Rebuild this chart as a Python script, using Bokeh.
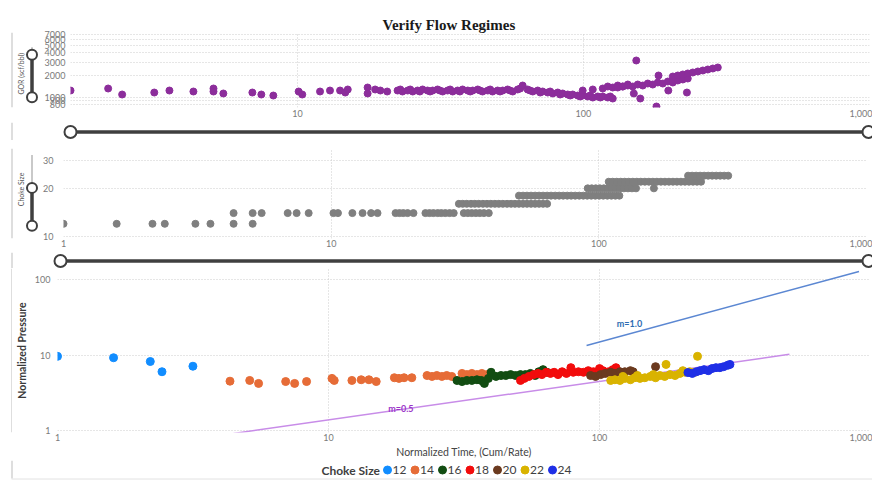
import math
from bokeh.plotting import figure
from bokeh.layouts import column, row
from bokeh.models import Range1d, FixedTicker, NumeralTickFormatter, Label
from bokeh.core.properties import value
from bokeh.embed import file_html
from bokeh.resources import INLINE

# ---------------- data ----------------
title_text = "Verify Flow Regimes"
gor_label = "GOR (scf/bbl)"
choke_label = "Choke Size"
x_label = "Normalized Time, (Cum/Rate)"
y_label = "Normalized Pressure"
legend_title = "Choke Size"

gor_ticks = [800, 900, 1000, 2000, 3000, 4000, 5000, 6000, 7000]
gor_time_ticks = [10, 100, 1000]
time_ticks = [1, 10, 100, 1000]
choke_ticks = [10, 20, 30]
pressure_ticks = [1, 10, 100]

gor_t = [1.61, 2.18, 2.44, 3.16, 3.57, 4.33, 5.09, 5.09, 5.51, 6.96, 7.48, 8.24,
         10.1, 10.4, 12.0, 13.0, 14.1, 14.7, 15.0, 17.6, 17.6, 18.7, 19.5, 20.6,
         22.4, 22.9, 23.3, 24.3, 24.8, 25.3, 26.3, 26.8, 27.4, 28.5, 29.1,
         29.7, 30.9, 31.5, 32.2, 33.5, 34.2, 34.9, 36.3, 37.0, 37.8, 39.4,
         40.2, 41.0, 42.7, 43.5, 44.4, 46.3, 47.2, 48.1, 50.1, 51.1, 52.2,
         54.3, 55.4, 56.6, 58.9, 60.1, 61.3, 63.8, 65.1, 66.5, 69.2, 70.6,
         72.0, 75.0, 76.5, 78.1, 81.3, 82.9, 84.6, 88.1, 89.9, 91.7, 95.5,
         97.4, 99.4, 103.5, 105.6, 107.8, 112.2, 114.5, 116.8, 121.6, 124.1, 126.6,
         99.4, 107.8, 116.8, 121.6, 126.6, 131.8, 137.2, 142.9,
         153, 150, 158, 180, 183, 198, 230,
         131.8, 137.2, 142.9, 148.7, 154.8, 161.2, 167.8, 174.7, 181.9, 189.4, 197.2, 205.3, 213.7, 222.5, 231.6,
         205.3, 213.7, 222.5, 231.6, 241.1, 251.1, 261.4, 272.1, 283.3, 294.9]
gor_v = [1243, 1323, 1098, 1168, 1243, 1205, 1323, 1205, 1133, 1168, 1098, 1064,
         1205, 1098, 1205, 1243, 1243, 1168, 1283, 1365, 1133, 1283, 1243, 1205,
         1243, 1283, 1205, 1243, 1283, 1205, 1243, 1205, 1283, 1243, 1205,
         1243, 1283, 1243, 1205, 1243, 1283, 1205, 1243, 1205, 1283, 1243,
         1205, 1243, 1283, 1243, 1205, 1243, 1283, 1205, 1243, 1205, 1243,
         1283, 1243, 1205, 1283, 1323, 1452, 1283, 1243, 1205, 1243, 1168,
         1205, 1168, 1205, 1133, 1168, 1098, 1133, 1098, 1064, 1098, 1064,
         1032, 1064, 1032, 1064, 1000, 1032, 1000, 1032, 1000, 1032, 969,
         1243, 1283, 1323, 1408, 1365, 1452, 1408, 1498,
         3162, 1133, 969, 756, 1982, 1243, 1168,
         1365, 1408, 1452, 1408, 1498, 1452, 1545, 1498, 1595, 1545, 1645, 1595, 1698, 1752, 1806,
         1922, 1982, 2046, 2112, 2177, 2247, 2317, 2390, 2466, 2545]

choke_sizes = [12, 14, 16, 18, 20, 22, 24]
choke_colors = ["#118DFF", "#E66C37", "#124D12", "#F20C0C", "#6B3A1F", "#D9B300", "#1F2FE6"]

# choke-size panel: normalized time of the records of each choke size
ch_t12 = [1.0, 1.58, 2.15, 2.39, 3.11, 3.54, 4.32, 5.09]
ch_t14 = [4.32, 5.09, 5.50, 6.88, 7.43, 8.24, 10.2, 10.6, 12.0, 13.1, 14.1, 14.9, 17.4, 18.0, 18.6, 19.3,
          20.3, 22.5, 23.3, 24.1, 25.0, 25.8, 26.7, 27.7, 28.7, 31.3, 32.4, 33.5, 34.7, 35.9, 37.2, 38.8]
ch_t16 = [30.0, 31.0, 32.1, 33.3, 34.4, 35.6, 36.9, 38.2, 39.5, 40.9, 42.3, 43.8, 45.4, 47.0, 48.6, 50.3,
          52.1, 53.9, 55.8, 57.8, 59.8, 61.9, 64.1]
ch_t18 = [50.3, 52.1, 53.9, 55.8, 57.8, 59.8, 61.9, 64.1, 66.3, 68.7, 71.1, 73.6, 76.2, 78.8, 81.6, 84.5,
          87.5, 90.5, 93.7, 97.0, 100.4, 103.9, 107.6, 111.4, 115.3, 119.3]
ch_t20 = [90.9, 94.1, 97.4, 100.9, 104.4, 108.1, 111.9, 115.8, 119.9, 124.1, 128.5, 133.0, 137.7, 160.6]
ch_t22 = [108.9, 112.7, 116.7, 120.8, 125.0, 129.4, 134.0, 138.7, 143.5, 148.6, 153.8, 159.2, 164.8, 170.6,
          176.6, 182.8, 189.2, 195.8, 202.7, 209.8, 217.2, 224.8, 232.7, 240.9]
ch_t24 = [215.5, 223.1, 230.9, 239.0, 247.4, 256.1, 265.1, 274.4, 284.0, 294.0, 304.3]

# normalized pressure panel, per choke size
pt12 = [1.0, 1.61, 2.2, 2.43, 3.16]
pp12 = [9.6, 9.2, 8.2, 6.0, 7.1]
pt14 = [4.33, 5.12, 5.52, 6.95, 7.5, 8.3, 10.3, 10.5, 12.2, 13.2, 14.1, 15.0, 17.5, 18.2, 19.0, 20.3,
        23.1, 24.1, 25.1, 26.2, 27.3, 28.5, 31.1, 32.4, 33.8, 35.3, 36.8, 38.4]
pp14 = [4.5, 4.6, 4.2, 4.45, 4.2, 4.45, 4.9, 4.6, 4.6, 4.7, 4.7, 4.45, 5.0, 4.9, 5.0, 5.0,
        5.35, 5.2, 5.35, 5.2, 5.35, 5.2, 5.7, 5.5, 5.7, 5.5, 5.7, 5.5]
pt16 = [29.8, 31.1, 32.4, 33.8, 35.3, 36.6, 37.6, 38.9, 39.8, 41.5, 43.3, 45.1, 47.0, 49.0, 51.1, 53.3,
        55.6, 57.9, 59.7, 61.9, 64.0]
pp16 = [4.6, 4.45, 4.6, 4.6, 4.7, 4.6, 4.2, 4.9, 5.9, 5.2, 5.35, 5.35, 5.5, 5.35, 5.5, 5.5,
        5.7, 5.35, 6.0, 6.4, 5.9]
pt18 = [51.1, 52.8, 54.9, 57.2, 59.3, 61.3, 63.6, 65.9, 68.0, 70.3, 72.8, 75.5, 78.4, 80.0, 83.6, 87.3,
        90.9, 95.0, 98.9, 100, 103, 108, 112, 115]
pp18 = [4.6, 4.9, 5.2, 5.5, 5.7, 5.5, 5.9, 5.7, 5.9, 5.5, 6.0, 5.7, 6.8, 5.9, 6.0, 5.9,
        6.2, 6.0, 5.9, 6.6, 6.2, 6.0, 6.4, 6.8]
pt20 = [92.7, 96.7, 101, 105, 110, 114, 119, 124, 130, 133, 161]
pp20 = [5.35, 5.2, 5.5, 5.7, 5.9, 5.7, 6.0, 6.0, 6.2, 6.0, 7.0]
pt22 = [110, 114, 119, 122, 124, 130, 135, 138, 141, 147, 154, 158, 161, 167, 174, 176,
        182, 190, 198, 203, 207, 215, 225, 230]
pp22 = [4.6, 4.7, 4.6, 5.2, 4.9, 4.7, 5.0, 5.35, 4.9, 5.0, 5.2, 5.5, 5.0, 5.35, 5.2, 7.5,
        5.5, 5.35, 5.7, 6.2, 5.9, 6.0, 5.9, 9.6]
pt24 = [212, 220, 228, 235, 243, 252, 260, 269, 278, 287, 297, 303]
pp24 = [5.85, 5.7, 6.0, 6.2, 6.4, 6.2, 6.6, 6.8, 6.8, 7.0, 7.3, 7.5]

# reference slope lines
slope1_t = [89.6, 907]
slope1_p = [13.4, 127.7]
slope05_t = [4.46, 502]
slope05_p = [0.913, 10.2]
slope1_text = "m=1.0"
slope05_text = "m=0.5"

# ---------------- styling / layout ----------------
FONT = "Lato"
SLIDER = "#3f3f3f"
BORDER = "#bdbdbd"
TICK_COLOR = "#7a7a7a"


def deco(w, h, x0, y0):
    """Decoration strip drawn in page pixel coordinates."""
    f = figure(width=w, height=h, x_range=Range1d(x0, x0 + w), y_range=Range1d(y0 + h, y0),
               x_axis_location=None, y_axis_location=None, toolbar_location=None,
               min_border=0, outline_line_color=None, output_backend="svg")
    f.xgrid.grid_line_color = None
    f.ygrid.grid_line_color = None
    f.xgrid.visible = False
    f.ygrid.visible = False
    return f


def left_border(f, y0, y1):
    f.segment(x0=[11.5], y0=[y0], x1=[11.5], y1=[y1], line_color=BORDER, line_width=1)


def hslider(f, y, xa, xb, r):
    f.segment(x0=[xa], y0=[y], x1=[xb], y1=[y], line_color=SLIDER, line_width=3.5)
    f.scatter(x=[xa, xb], y=[y, y], size=2 * r, fill_color="white", line_color=SLIDER, line_width=2)


def vslider(f, x, ytrack, ya, yb, r):
    f.segment(x0=[x], y0=[ytrack], x1=[x], y1=[ya], line_color="#c9c9c9", line_width=2)
    f.segment(x0=[x], y0=[ya], x1=[x], y1=[yb], line_color=SLIDER, line_width=3.5)
    f.scatter(x=[x, x], y=[ya, yb], size=2 * r, fill_color="white", line_color=SLIDER, line_width=2)


def rot_text(f, x, y, txt, size, color, style="normal"):
    f.text(x=[x], y=[y], text=[txt], angle=math.pi / 2, text_align="center", text_baseline="middle",
           text_font=value(FONT), text_font_size=size, text_color=color, text_font_style=style)


def main_fig(w, h, xr, yr, mbl, mbr, mbt, mbb, xticks, yticks, xfmt, yfmt, xstand, ystand, title=None):
    kw = dict(title=title) if title else {}
    p = figure(width=w, height=h, x_axis_type="log", y_axis_type="log", x_range=xr, y_range=yr,
               toolbar_location=None, output_backend="svg", outline_line_color=None,
               min_border_left=mbl, min_border_right=mbr, min_border_top=mbt, min_border_bottom=mbb, **kw)
    for ax in p.axis:
        ax.axis_line_color = None
        ax.major_tick_line_color = None
        ax.minor_tick_line_color = None
        ax.major_tick_out = 0
        ax.major_tick_in = 0
        ax.minor_tick_out = 0
        ax.minor_tick_in = 0
        ax.major_label_text_font = FONT
        ax.major_label_text_font_size = "9px"
        ax.major_label_text_color = TICK_COLOR
    p.xaxis.ticker = FixedTicker(ticks=xticks)
    p.yaxis.ticker = FixedTicker(ticks=yticks)
    p.xaxis.formatter = NumeralTickFormatter(format=xfmt)
    p.yaxis.formatter = NumeralTickFormatter(format=yfmt)
    p.xaxis.major_label_standoff = xstand
    p.yaxis.major_label_standoff = ystand
    for g in p.grid:
        g.grid_line_color = "#cdcdcd"
        g.grid_line_dash = "1 2"
        g.grid_line_width = 1
    return p


# --- strip at the very top (card border)
s0 = deco(872, 11, 0, 0)
s0.segment(x0=[11], y0=[10.5], x1=[872], y1=[10.5], line_color="#a8a8a8", line_width=1)
left_border(s0, 10, 11)

# --- top panel: GOR
tl = deco(40, 111, 0, 11)
left_border(tl, 11, 122)
rot_text(tl, 20, 72, gor_label, "7px", "#555555")
vslider(tl, 31.5, 33, 44, 107, 5)

tm = main_fig(832, 111, Range1d(1.61, 1000), Range1d(733, 7551), 30, 3, 21, 15,
              gor_time_ticks, gor_ticks, "0,0", "0", 2, 5, title=title_text)
tm.title.text_font = "Liberation Serif"
tm.title.text_font_size = "15px"
tm.title.text_font_style = "bold"
tm.title.text_color = "#1a1a1a"
tm.title.align = "left"
tm.title.offset = 312
tm.title.standoff = 0
tm.scatter(x=gor_t, y=gor_v, size=7, fill_color="#8C2D9B", line_color="#8C2D9B")

th = deco(872, 18, 0, 122)
left_border(th, 122, 140)
hslider(th, 131.5, 70, 868, 6)

# --- middle panel: choke size
ml = deco(40, 112, 0, 140)
left_border(ml, 140, 252)
rot_text(ml, 20, 191, choke_label, "7px", "#555555")
vslider(ml, 31.5, 148, 189, 236, 5)

mm = main_fig(832, 112, Range1d(1, 1000), Range1d(9.71, 35.5), 22, 6, 8, 14,
              time_ticks, choke_ticks, "0,0", "0", 1, 10)
for size, lst in zip(choke_sizes, [ch_t12, ch_t14, ch_t16, ch_t18, ch_t20, ch_t22, ch_t24]):
    mm.scatter(x=lst, y=[size] * len(lst), size=7, fill_color="#7f7f7f", line_color="#7f7f7f")

mh = deco(872, 16, 0, 252)
left_border(mh, 252, 268)
hslider(mh, 260.5, 60, 868, 6)

# --- bottom panel: normalized pressure
bl = deco(12, 192, 0, 268)
left_border(bl, 268, 460)

bm = main_fig(860, 192, Range1d(1, 1000), Range1d(0.94, 140), 40, 2, 0, 28,
              time_ticks, pressure_ticks, "0,0", "0", 1, 7)
bm.yaxis.axis_label = y_label
bm.yaxis.axis_label_text_font = FONT
bm.yaxis.axis_label_text_font_size = "10.5px"
bm.yaxis.axis_label_text_font_style = "bold"
bm.yaxis.axis_label_text_color = "#3a3a3a"
bm.yaxis.axis_label_standoff = 4
bm.xaxis.axis_label = x_label
bm.xaxis.axis_label_text_font = FONT
bm.xaxis.axis_label_text_font_size = "10.5px"
bm.xaxis.axis_label_text_font_style = "normal"
bm.xaxis.axis_label_text_color = "#444444"
bm.xaxis.axis_label_standoff = 2

bm.line(x=slope1_t, y=slope1_p, line_color="#5B87D2", line_width=1.5)
bm.line(x=slope05_t, y=slope05_p, line_color="#C88CE8", line_width=1.5)
for ts, ps, col in zip([pt12, pt14, pt16, pt18, pt20, pt22, pt24],
                       [pp12, pp14, pp16, pp18, pp20, pp22, pp24], choke_colors):
    bm.scatter(x=ts, y=ps, size=8, fill_color=col, line_color=col)
bm.add_layout(Label(x=129, y=26.1, text=slope1_text, text_align="center", text_baseline="middle",
                    text_font=FONT, text_font_size="9px", text_font_style="bold", text_color="#2D6CB2"))
bm.add_layout(Label(x=18.5, y=1.96, text=slope05_text, text_align="center", text_baseline="middle",
                    text_font=FONT, text_font_size="9px", text_font_style="bold", text_color="#9A35C8"))

# --- legend strip
leg = deco(872, 21, 0, 460)
left_border(leg, 460, 478)
leg.segment(x0=[11], y0=[478.5], x1=[872], y1=[478.5], line_color="#e2e2e2", line_width=1)
leg.text(x=[321], y=[469.5], text=[legend_title], text_align="left", text_baseline="middle",
         text_font=value(FONT), text_font_size="12px", text_font_style="bold", text_color="#404040")
leg_x = [387 + 27.5 * i for i in range(len(choke_sizes))]
leg.scatter(x=leg_x, y=[469.5] * len(leg_x), size=8, fill_color=choke_colors, line_color=choke_colors)
leg.text(x=[x + 5 for x in leg_x], y=[469.5] * len(leg_x), text=[str(s) for s in choke_sizes],
         text_align="left", text_baseline="middle", text_font=value(FONT), text_font_size="12px",
         text_color="#404040")

layout = column(s0, row(tl, tm), th, row(ml, mm), mh, row(bl, bm), leg)

open("out.html", "w").write(file_html(layout, INLINE))
